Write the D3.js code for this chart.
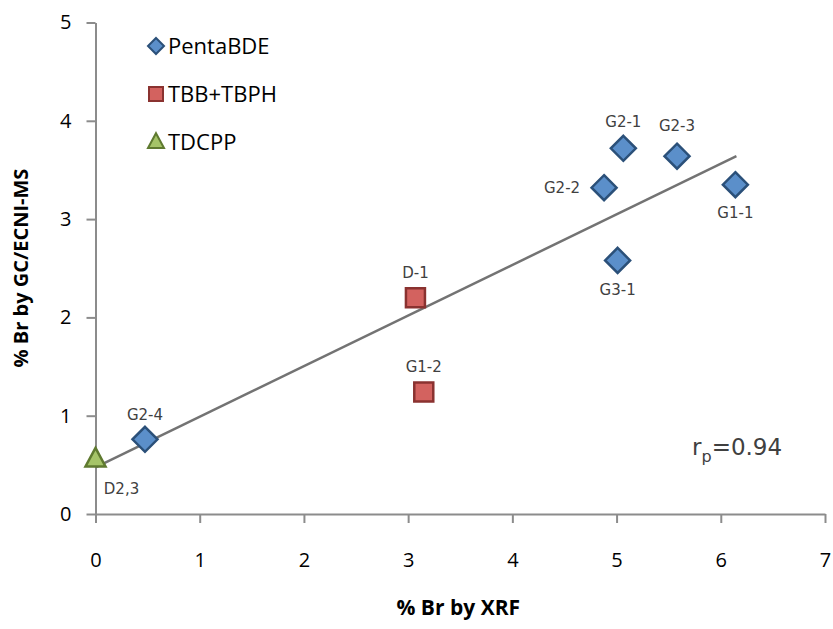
<!DOCTYPE html>
<html>
<head>
<meta charset="utf-8">
<script src="https://cdn.jsdelivr.net/npm/d3@7"></script>
<style>
body{margin:0;background:#fff;}
</style>
</head>
<body>
<svg id="svg" width="833" height="629"></svg>
<script>
// values
var pentaNames=["G2-4","G2-1","G2-3","G2-2","G1-1","G3-1"];
var pentaX=[0.475,5.065,5.58,4.88,6.14,5.01];
var pentaY=[0.76,3.72,3.64,3.32,3.35,2.58];
var tbbNames=["D-1","G1-2"];
var tbbX=[3.07,3.15];
var tbbY=[2.20,1.24];
var tdcNames=["D2,3"];
var tdcX=[0];
var tdcY=[0.56];
var trendX=[0,6.15];
var trendY=[0.475,3.64];
var xTicks=[0,1,2,3,4,5,6,7];
var yTicks=[0,1,2,3,4,5];
var legendNames=["PentaBDE","TBB+TBPH","TDCPP"];

var svg=d3.select("#svg");
var x=d3.scaleLinear().domain([0,7]).range([95.5,825]);
var y=d3.scaleLinear().domain([0,5]).range([514,22.5]);
var sans="'Open Sans', 'Liberation Sans', sans-serif";

var xAxis=svg.append("g")
	.attr("transform","translate(0,"+y(0)+")")
	.call(d3.axisBottom(x).tickValues(xTicks).tickFormat(d3.format("d")).tickSize(9).tickSizeOuter(0).tickPadding(30));
var yAxis=svg.append("g")
	.attr("transform","translate("+x(0)+",0)")
	.call(d3.axisLeft(y).tickValues(yTicks).tickFormat(d3.format("d")).tickSize(9).tickSizeOuter(0).tickPadding(15));
[xAxis,yAxis].forEach(function(a){
	a.select(".domain").attr("stroke","#8c8c8c").attr("stroke-width",2);
	a.selectAll(".tick line").attr("stroke","#8c8c8c").attr("stroke-width",2);
	a.selectAll(".tick text")
	 .attr("fill","#000")
	 .style("font-family",sans)
	 .style("font-size","20px");
});

// axis titles
svg.append("text")
	.attr("x",(x(0)+x(7))/2-2).attr("y",615)
	.attr("text-anchor","middle")
	.style("font-family",sans)
	.style("font-size","21px").style("font-weight","bold")
	.text("% Br by XRF");
svg.append("text")
	.attr("transform","translate(28,268) rotate(-90)")
	.attr("text-anchor","middle")
	.style("font-family",sans)
	.style("font-size","20px").style("font-weight","bold")
	.text("% Br by GC/ECNI-MS");

// trend line
svg.append("line")
	.attr("x1",x(trendX[0])).attr("y1",y(trendY[0]))
	.attr("x2",x(trendX[1])).attr("y2",y(trendY[1]))
	.attr("stroke","#737373").attr("stroke-width",2.5);

var diamond=function(s){return "M0,"+(-s)+"L"+s+",0L0,"+s+"L"+(-s)+",0Z";};
var square=function(s){return "M"+(-s)+","+(-s)+"H"+s+"V"+s+"H"+(-s)+"Z";};
var triangle=function(s){return "M0,"+(-s*1.1)+"L"+s+","+(s*0.75)+"L"+(-s)+","+(s*0.75)+"Z";};

var styles=[
	{fill:"#5b8fca",stroke:"#2b5079",shape:diamond,size:12.5,lsize:8},
	{fill:"#d3625f",stroke:"#8a3230",shape:square,size:9.5,lsize:7},
	{fill:"#a5c468",stroke:"#5f7a30",shape:triangle,size:10,lsize:8}
];
var series=[
	{names:pentaNames,xs:pentaX,ys:pentaY},
	{names:tbbNames,xs:tbbX,ys:tbbY},
	{names:tdcNames,xs:tdcX,ys:tdcY}
];

series.forEach(function(s,k){
	var st=styles[k];
	svg.append("g").selectAll("path")
		.data(s.xs)
		.enter().append("path")
		.attr("d",st.shape(st.size))
		.attr("transform",function(d,i){return "translate("+x(d)+","+y(s.ys[i])+")";})
		.attr("fill",st.fill)
		.attr("stroke",st.stroke)
		.attr("stroke-width",2.5);
});

// point labels: offset from marker
var labelOff={
	"G2-4":[0,-25],"G2-1":[0,-27],"G2-3":[0,-30],"G2-2":[-42,0],"G1-1":[0,28],
	"G3-1":[0,29],"D-1":[0,-25],"G1-2":[0,-25],"D2,3":[26,30]
};
series.forEach(function(s){
	svg.append("g").selectAll("text")
		.data(s.names)
		.enter().append("text")
		.attr("x",function(d,i){return x(s.xs[i])+labelOff[d][0];})
		.attr("y",function(d,i){return y(s.ys[i])+labelOff[d][1];})
		.attr("dy","0.35em")
		.attr("text-anchor","middle")
		.attr("fill","#404040")
		.style("font-family","'DejaVu Sans', Verdana, sans-serif")
		.style("font-size","15px")
		.text(function(d){return d;});
});

// legend
legendNames.forEach(function(n,i){
	var st=styles[i];
	var ly=46+i*48;
	svg.append("path")
		.attr("d",st.shape(st.lsize))
		.attr("transform","translate(156,"+ly+")")
		.attr("fill",st.fill).attr("stroke",st.stroke).attr("stroke-width",2);
	svg.append("text")
		.attr("x",168).attr("y",ly).attr("dy","0.35em")
		.style("font-family",sans)
		.style("font-size","22px")
		.text(n);
});

// correlation note
var rt=svg.append("text")
	.attr("x",692).attr("y",455)
	.attr("fill","#404040")
	.style("font-family","'DejaVu Sans', Verdana, sans-serif")
	.style("font-size","23px");
rt.append("tspan").text("r");
rt.append("tspan").attr("dy",7).style("font-size","16px").text("p");
rt.append("tspan").attr("dy",-7).text("=0.94");
</script>
</body>
</html>
